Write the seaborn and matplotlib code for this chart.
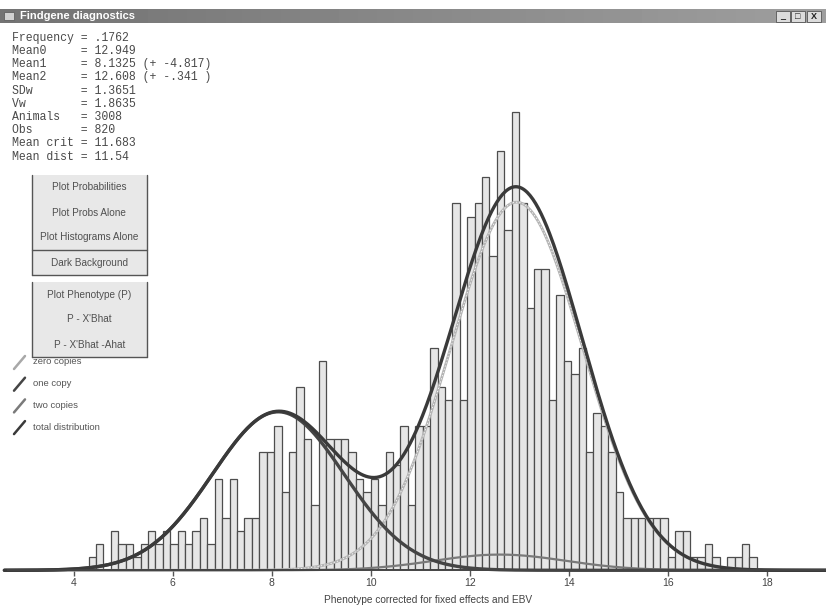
import numpy as np
import pandas as pd
import matplotlib
matplotlib.use("Agg")
import matplotlib.pyplot as plt
import seaborn as sns
from matplotlib.patches import Rectangle
from matplotlib.lines import Line2D

# ==============================================================================
# Findgene diagnostics - histogram of phenotype with fitted mixture components
# ==============================================================================

W, H = 826, 612

# histogram: bins of 0.15 starting at 4.3 (counts)
bin_start = 4.3
bin_width = 0.15
counts = [1, 2, 0, 3, 2, 2, 1, 2, 3, 2,
          3, 2, 3, 2, 3, 4, 2, 7, 4, 7,
          3, 4, 4, 9, 9, 11, 6, 9, 14, 10,
          5, 16, 10, 10, 10, 9, 7, 6, 7, 5,
          9, 8, 11, 5, 11, 11, 17, 14, 13, 28,
          13, 27, 28, 30, 24, 32, 26, 35, 28, 20,
          23, 23, 13, 21, 16, 15, 17, 9, 12, 11,
          9, 6, 4, 4, 4, 4, 4, 4, 1, 3,
          3, 1, 1, 2, 1, 0, 1, 1, 2, 1]

# fitted components (means from the panel, peak heights)
comp_names = ['zero copies', 'one copy', 'two copies']
comp_means = [12.949, 8.1325, 12.608]
comp_peaks = [28.1, 12.1, 1.2]
comp_sd = 1.33

xticks = [4, 6, 8, 10, 12, 14, 16, 18]
xlabel = 'Phenotype corrected for fixed effects and EBV'

stat_labels = ['Frequency', 'Mean0', 'Mean1', 'Mean2', 'SDw', 'Vw',
               'Animals', 'Obs', 'Mean crit', 'Mean dist']
stat_values = ['.1762', '12.949', '8.1325 (+ -4.817)', '12.608 (+ -.341 )',
               '1.3651', '1.8635', '3008', '820', '11.683', '11.54']

buttons_top = ['Plot Probabilities', 'Plot Probs Alone', 'Plot Histograms Alone',
               'Dark Background']
buttons_bottom = ['Plot Phenotype (P)', "P - X'Bhat", "P - X'Bhat -Ahat"]

legend_labels = ['zero copies', 'one copy', 'two copies', 'total distribution']
legend_colors = ['#a8a8a8', '#454545', '#7a7a7a', '#3a3a3a']


def fx(px):
    return px / W


def fy(py):
    return 1 - py / H


sns.set_theme(style="white")
plt.rcParams['font.family'] = ['Liberation Sans', 'DejaVu Sans']

fig = plt.figure(figsize=(W / 100, H / 100), dpi=100)
fig.patch.set_facecolor('white')

# --- main plot area ---
base_py, top_py = 570.3, 30
ax = fig.add_axes([fx(8), fy(base_py), fx(818), (base_py - top_py) / H])
ax.set_xlim(2.673, 19.198)
ax.set_ylim(0, (base_py - top_py) / 13.1)
ax.patch.set_alpha(0)

edges = [bin_start + bin_width * i for i in range(len(counts) + 1)]
hist_df = pd.DataFrame({'x': [e + bin_width / 2 for e in edges[:-1]],
                        'n': counts})
sns.histplot(data=hist_df, x='x', weights='n', bins=edges, ax=ax, stat='count',
             color='#e6e6e6', edgecolor='#4d4d4d', linewidth=0.9, alpha=1)

xs = np.linspace(2.6, 19.3, 600)
comps = [p * np.exp(-(xs - m) ** 2 / (2 * comp_sd ** 2))
         for m, p in zip(comp_means, comp_peaks)]
total = comps[0] + comps[1] + comps[2]

sns.lineplot(x=xs, y=comps[0], ax=ax, color='#b4b4b4', lw=2.0, clip_on=False)
sns.lineplot(x=xs, y=comps[0], ax=ax, color='white', lw=0.6,
             linestyle=(0, (1.5, 2.5)), clip_on=False)
sns.lineplot(x=xs, y=comps[2], ax=ax, color='#7a7a7a', lw=1.6, clip_on=False)
sns.lineplot(x=xs, y=comps[1], ax=ax, color='#454545', lw=2.4, clip_on=False)
sns.lineplot(x=xs, y=total, ax=ax, color='#3a3a3a', lw=2.4, clip_on=False)

for s in ['left', 'right', 'top']:
    ax.spines[s].set_visible(False)
ax.spines['bottom'].set_color('#444444')
ax.spines['bottom'].set_linewidth(1.4)
ax.set_yticks([])
ax.set_xticks(xticks)
ax.tick_params(axis='x', direction='out', length=4, width=1, color='#555555',
               pad=1.5, labelsize=7.5, labelcolor='#444444', bottom=True)
ax.set_xlabel('')
ax.set_ylabel('')
fig.text(fx(428), fy(600), xlabel, ha='center', va='center', fontsize=7.3,
         color='#444444')

# --- window title bar ---
tax = fig.add_axes([0, fy(23), 1, 14 / H])
grad = np.linspace(0.45, 0.62, 256).reshape(1, -1)
tax.imshow(grad, cmap='gray', vmin=0, vmax=1, aspect='auto')
tax.set_axis_off()
fig.text(fx(20), fy(16), 'Findgene diagnostics', ha='left', va='center',
         fontsize=8, fontweight='bold', color='white')
fig.add_artist(Rectangle((fx(4), fy(20)), fx(10), 8 / H, transform=fig.transFigure,
                         facecolor='#d0d0d0', edgecolor='#606060', lw=0.6))
for x0, sym in zip([776, 791, 807], ['_', '\u25a1', 'X']):
    fig.add_artist(Rectangle((fx(x0), fy(22)), fx(14), 11 / H,
                             transform=fig.transFigure, facecolor='#dcdcdc',
                             edgecolor='#555555', lw=0.6))
    fig.text(fx(x0 + 7), fy(16.5), sym, ha='center', va='center', fontsize=6.5,
             fontweight='bold', color='#222222')

# --- statistics text ---
for i, (lab, val) in enumerate(zip(stat_labels, stat_values)):
    fig.text(fx(12), fy(37.7 + i * 13.2), lab.ljust(10) + '= ' + val,
             ha='left', va='center', fontsize=8.3, family='Liberation Mono',
             color='#4a4a4a')


# --- buttons ---
def button_group(labels, y0, h, sep_after=None):
    x0, x1 = 31.7, 146.7
    y1 = y0 + h * len(labels)
    fig.add_artist(Rectangle((fx(x0), fy(y1)), fx(x1 - x0), (y1 - y0) / H,
                             transform=fig.transFigure, facecolor='#e8e8e8',
                             edgecolor='none'))
    line = dict(transform=fig.transFigure, color='#555555', lw=1.0)
    fig.add_artist(Line2D([fx(x0), fx(x0)], [fy(y0), fy(y1)], **line))
    fig.add_artist(Line2D([fx(x1), fx(x1)], [fy(y0), fy(y1)], **line))
    fig.add_artist(Line2D([fx(x0), fx(x1)], [fy(y1), fy(y1)], **line))
    if sep_after is not None:
        ys = y0 + h * sep_after
        fig.add_artist(Line2D([fx(x0), fx(x1)], [fy(ys), fy(ys)], **line))
    for i, lab in enumerate(labels):
        fig.text(fx((x0 + x1) / 2), fy(y0 + h * (i + 0.5)), lab, ha='center',
                 va='center', fontsize=7.2, color='#505050')


button_group(buttons_top, 175, 25, sep_after=3)
button_group(buttons_bottom, 282, 25)

# --- legend ---
for i, (lab, col) in enumerate(zip(legend_labels, legend_colors)):
    yc = 362 + i * 21.7
    fig.add_artist(Line2D([fx(14), fx(25)], [fy(yc + 7), fy(yc - 6)],
                          transform=fig.transFigure, color=col, lw=1.8))
    fig.text(fx(33), fy(yc), lab, ha='left', va='center', fontsize=6.8,
             color='#555555')

fig.savefig('out.png', dpi=100)
